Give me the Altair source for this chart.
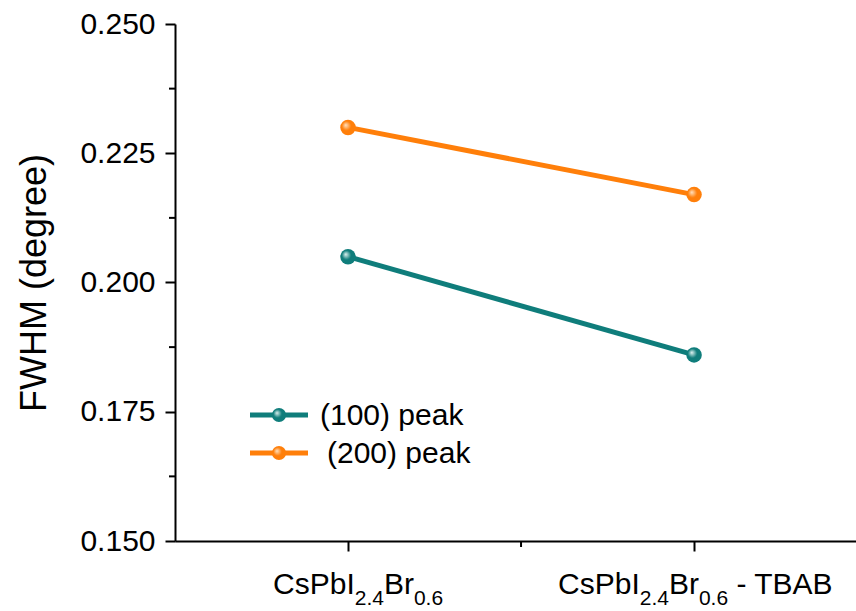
import altair as alt
import pandas as pd

# ---------------- data ----------------
x_pos = [1, 2]
series_names = ["(100) peak", "(200) peak"]
fwhm_100 = [0.205, 0.186]
fwhm_200 = [0.230, 0.217]
y_ticks = [0.150, 0.175, 0.200, 0.225, 0.250]
y_minor = [0.1625, 0.1875, 0.2125, 0.2375]
x_minor = [1.5]
# category labels as (text, is_subscript) pieces
cat_labels = [
    [("CsPbI", False), ("2.4", True), ("Br", False), ("0.6", True)],
    [("CsPbI", False), ("2.4", True), ("Br", False), ("0.6", True), (" - TBAB", False)],
]

# ---------------- style ----------------
FONT = "Liberation Sans"
TEAL = "#0f7d7b"
ORANGE = "#ff7f0a"
colors = [TEAL, ORANGE]
highlights = ["#dff3f1", "#ffe3c4"]
W, H = 681, 517
MAIN_FS, SUB_FS = 30, 21

ARIAL = {"C": .722, "s": .5, "P": .667, "b": .556, "I": .278, "B": .667, "r": .333,
         ".": .278, " ": .278, "-": .333, "T": .611, "A": .667}
for d in "0123456789":
    ARIAL[d] = .556


def text_w(t, fs):
    return sum(ARIAL.get(c, .556) for c in t) * fs


df = pd.DataFrame({
    "x": x_pos * 2,
    "fwhm": fwhm_100 + fwhm_200,
    "series": [series_names[0]] * 2 + [series_names[1]] * 2,
})

xscale = alt.Scale(domain=[0.5, 2.468], nice=False, zero=False)
yscale = alt.Scale(domain=[0.15, 0.25], nice=False, zero=False)

xaxis = alt.Axis(values=x_pos, labels=False, title="", grid=False, tickSize=10,
                 tickWidth=2, domainWidth=2, domainColor="black", tickColor="black")
yaxis = alt.Axis(values=y_ticks, format=".3f", title="FWHM (degree)", grid=False,
                 tickSize=10, tickWidth=2, domainWidth=2, domainColor="black",
                 tickColor="black", labelFontSize=MAIN_FS, labelFont=FONT,
                 labelColor="black", labelPadding=10, titleFont=FONT,
                 titleFontSize=36, titleFontWeight="normal", titleColor="black",
                 titlePadding=26)


def grad(i):
    return alt.RadialGradient(
        gradient="radial",
        stops=[alt.GradientStop(offset=0, color=highlights[i]),
               alt.GradientStop(offset=0.5, color=colors[i]),
               alt.GradientStop(offset=1, color=colors[i])],
        x1=0.35, y1=0.35, r1=0, x2=0.45, y2=0.45, r2=0.6)


layers = []
for i, name in enumerate(series_names):
    base = alt.Chart(df).transform_filter(alt.datum.series == name)
    layers.append(base.mark_line(color=colors[i], strokeWidth=5).encode(
        x=alt.X("x:Q", scale=xscale, axis=xaxis),
        y=alt.Y("fwhm:Q", scale=yscale, axis=yaxis)))
    layers.append(base.mark_point(filled=True, fill=grad(i), opacity=1, size=240,
                                  strokeWidth=0).encode(
        x=alt.X("x:Q", scale=xscale),
        y=alt.Y("fwhm:Q", scale=yscale)))

# minor ticks
layers.append(alt.Chart(pd.DataFrame({"v": y_minor})).mark_rule(
    color="black", strokeWidth=2).encode(
    y=alt.Y("v:Q", scale=yscale), x=alt.value(-6), x2=alt.value(0)))
layers.append(alt.Chart(pd.DataFrame({"v": x_minor})).mark_rule(
    color="black", strokeWidth=2).encode(
    x=alt.X("v:Q", scale=xscale), y=alt.value(H), y2=alt.value(H + 6)))

# category labels with subscripts
start_offsets = [-75, -136]
for xp, pieces, off in zip(x_pos, cat_labels, start_offsets):
    cur = off
    for txt, sub in pieces:
        fs = SUB_FS if sub else MAIN_FS
        lead = len(txt) - len(txt.lstrip(" "))
        shown = txt.lstrip(" ")
        layers.append(alt.Chart(pd.DataFrame({"x": [xp], "t": [shown]})).mark_text(
            align="left", baseline="alphabetic", dx=cur + text_w(" " * lead, fs),
            font=FONT, fontSize=fs, color="black").encode(
            x=alt.X("x:Q", scale=xscale),
            y=alt.value(581 if sub else 570),
            text="t:N"))
        cur += text_w(txt, fs)

# manual legend
leg_y = [391, 429]
leg_text_x = [145, 152]
for i, name in enumerate(series_names):
    one = alt.Chart(pd.DataFrame({"t": [name]}))
    layers.append(one.mark_rule(color=colors[i], strokeWidth=5).encode(
        x=alt.value(75), x2=alt.value(133), y=alt.value(leg_y[i])))
    layers.append(one.mark_point(filled=True, fill=grad(i), opacity=1, size=200,
                                 strokeWidth=0).encode(
        x=alt.value(104), y=alt.value(leg_y[i])))
    layers.append(one.mark_text(align="left", baseline="middle", font=FONT,
                                fontSize=30, color="black").encode(
        x=alt.value(leg_text_x[i]), y=alt.value(leg_y[i] + 1), text="t:N"))

chart = alt.layer(*layers).properties(
    width=W, height=H,
    autosize=alt.AutoSizeParams(type="none"),
    padding={"left": 175, "top": 24, "right": 0, "bottom": 70},
    background="white",
).configure_view(strokeWidth=0)

chart.save("out.html", embed_options={"renderer": "svg", "actions": False})
